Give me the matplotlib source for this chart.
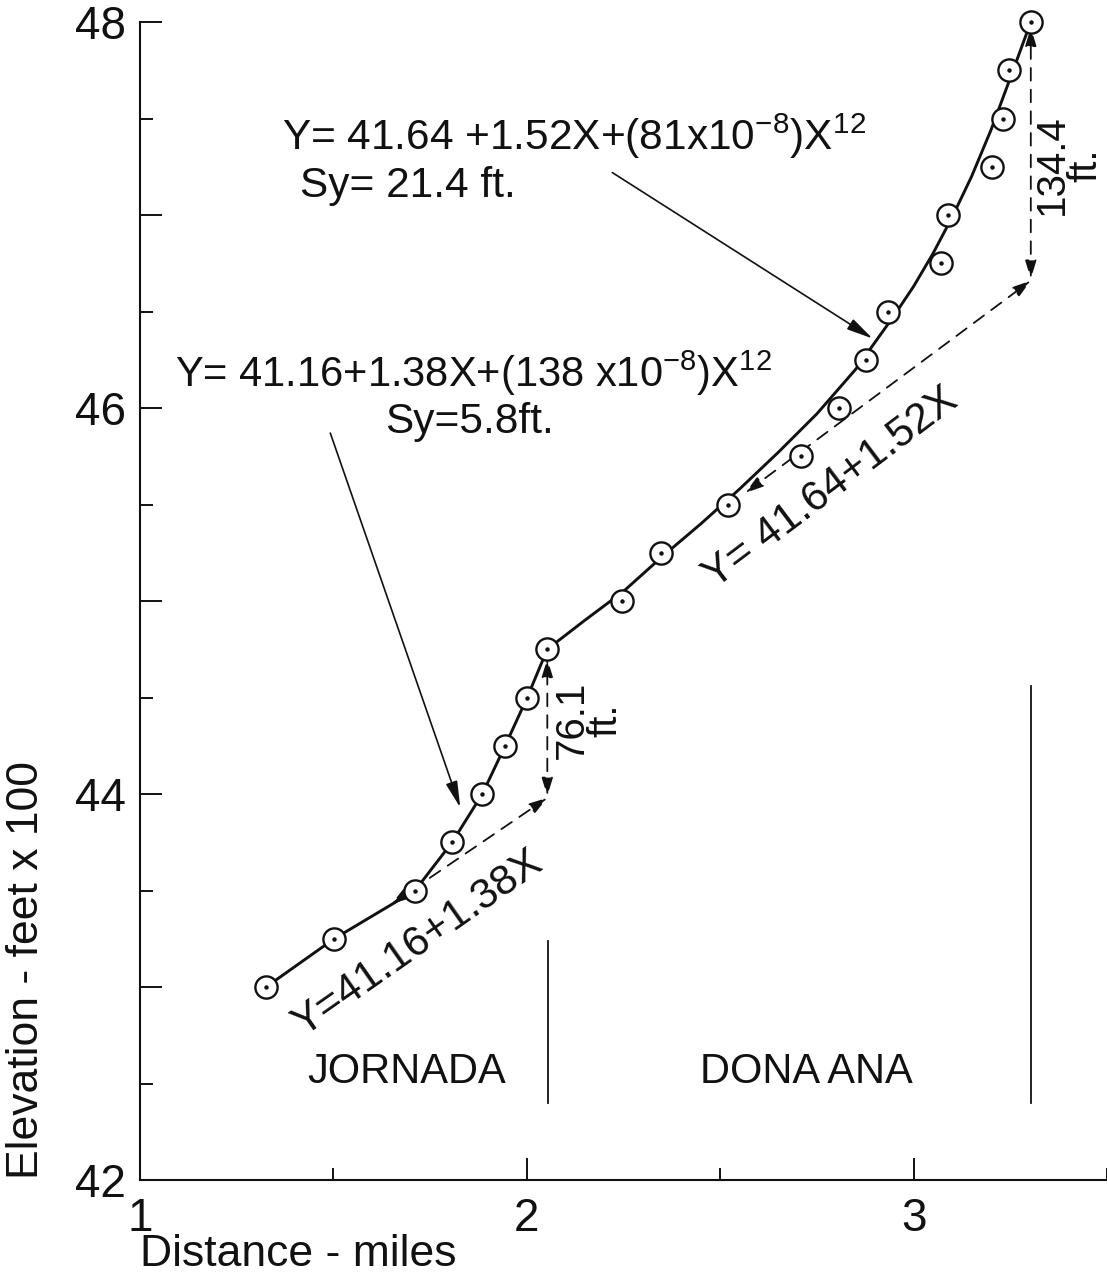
import matplotlib
matplotlib.use("Agg")
import matplotlib.pyplot as plt
from matplotlib.patches import FancyArrowPatch
from matplotlib.ticker import FixedLocator

# ---------------- data ----------------
distance_mi = [1.326, 1.502, 1.711, 1.807, 1.885, 1.944, 2.001, 2.053,
               2.245, 2.348, 2.519, 2.708, 2.806, 2.878, 2.935, 3.070,
               3.088, 3.202, 3.230, 3.246, 3.303]
elevation_100ft = [43.00, 43.25, 43.50, 43.75, 44.00, 44.25, 44.50, 44.75,
                   45.00, 45.25, 45.50, 45.75, 46.00, 46.25, 46.50, 46.75,
                   47.00, 47.25, 47.50, 47.75, 48.00]

# fitted curves as drawn
jornada_fit_x = [1.326, 1.502, 1.711, 1.807, 1.885, 1.944, 2.001, 2.053]
jornada_fit_y = [43.00, 43.25, 43.50, 43.75, 44.00, 44.25, 44.50, 44.75]
donaana_fit_x = [2.053, 2.15, 2.25, 2.35, 2.45, 2.55, 2.65, 2.75, 2.85,
                 2.95, 3.00, 3.05, 3.10, 3.15, 3.20, 3.25, 3.303]
donaana_fit_y = [44.75, 44.90, 45.05, 45.23, 45.40, 45.58, 45.77, 45.97,
                 46.20, 46.48, 46.63, 46.80, 46.99, 47.20, 47.44, 47.71, 48.00]

# linear parts (dashed) and departures
jornada_lin_x = [1.650, 2.053]
jornada_lin_y = [43.43, 43.98]
donaana_lin_x = [2.565, 3.303]
donaana_lin_y = [45.56, 46.66]
jornada_gap_y = [43.99, 44.70]
donaana_gap_y = [46.67, 47.97]

x_ticks = [1, 2, 3]
x_minor = [1.5, 2.5, 3.5]
y_ticks = [42, 43, 44, 45, 46, 47, 48]
y_ticklabels = ["42", "", "44", "", "46", "", "48"]
y_minor = [42.5, 43.5, 44.5, 45.5, 46.5, 47.5]

zone_names = ["JORNADA", "DONA ANA"]
zone_label_x = [1.690, 2.724]
zone_bounds_x = [2.054, 3.303]
zone_bounds_top = [43.24, 44.56]

# ---------------- style ----------------
plt.rcParams["font.family"] = ["Liberation Sans", "DejaVu Sans"]
plt.rcParams["mathtext.default"] = "regular"
ann_fs = 30.5
FS = 33
INK = "#111111"

fig = plt.figure(figsize=(11.07, 12.84), dpi=100)
fig.patch.set_facecolor("white")
ax = fig.add_axes([140 / 1107, 104 / 1284, 967 / 1107, 1158 / 1284])
ax.set_xlim(1, 3.5)
ax.set_ylim(42, 48)
for s in ("top", "right"):
    ax.spines[s].set_visible(False)
for s in ("left", "bottom"):
    ax.spines[s].set_linewidth(1.5)
    ax.spines[s].set_color(INK)

ax.xaxis.set_major_locator(FixedLocator(x_ticks))
ax.xaxis.set_minor_locator(FixedLocator(x_minor))
ax.set_xticklabels([str(v) for v in x_ticks])
ax.yaxis.set_major_locator(FixedLocator(y_ticks))
ax.yaxis.set_minor_locator(FixedLocator(y_minor))
ax.set_yticklabels(y_ticklabels)
ax.tick_params(which="major", direction="in", length=16, width=1.4,
               labelsize=FS, colors=INK)
ax.tick_params(axis="y", which="major", pad=10)
ax.tick_params(axis="x", which="major", pad=12)
ax.tick_params(which="minor", direction="in", length=9, width=1.4, colors=INK)

# curves
ax.plot(jornada_fit_x, jornada_fit_y, color=INK, lw=2.1, zorder=3,
        solid_joinstyle="round", clip_on=False)
ax.plot(donaana_fit_x, donaana_fit_y, color=INK, lw=2.1, zorder=3,
        solid_joinstyle="round", clip_on=False)
# data points: circle with centre dot
ax.plot(distance_mi, elevation_100ft, ls="none", marker="o", ms=16,
        mfc="white", mec=INK, mew=1.7, zorder=4, clip_on=False)
ax.plot(distance_mi, elevation_100ft, ls="none", marker="o", ms=2.2,
        mfc=INK, mec=INK, zorder=5, clip_on=False)

dash = (0, (7, 5))


def darrow(x0, y0, x1, y1):
    p = FancyArrowPatch((x0, y0), (x1, y1),
                        arrowstyle="<|-|>,head_length=0.55,head_width=0.17",
                        mutation_scale=20, lw=1.3, color=INK,
                        linestyle=dash, shrinkA=0, shrinkB=0, zorder=2,
                        clip_on=False)
    ax.add_patch(p)


darrow(jornada_lin_x[0], jornada_lin_y[0], jornada_lin_x[1], jornada_lin_y[1])
darrow(donaana_lin_x[0], donaana_lin_y[0], donaana_lin_x[1], donaana_lin_y[1])
darrow(jornada_lin_x[1], jornada_gap_y[0], jornada_lin_x[1], jornada_gap_y[1])
darrow(donaana_lin_x[1], donaana_gap_y[0], donaana_lin_x[1], donaana_gap_y[1])

# leader arrows
ax.annotate("", xy=(2.894, 46.36), xytext=(2.221, 47.22),
            arrowprops=dict(arrowstyle="-|>,head_length=0.8,head_width=0.18",
                            mutation_scale=20, lw=1.2, color=INK,
                            shrinkA=0, shrinkB=0))
ax.annotate("", xy=(1.828, 43.93), xytext=(1.492, 45.87),
            arrowprops=dict(arrowstyle="-|>,head_length=0.8,head_width=0.18",
                            mutation_scale=20, lw=1.2, color=INK,
                            shrinkA=0, shrinkB=0))

# equations
ax.text(1.367, 47.337, r"Y= 41.64 +1.52X+(81x10$^{-8}$)X$^{12}$",
        fontsize=ann_fs, color=INK, va="baseline", ha="left")
ax.text(1.414, 47.093, "Sy= 21.4 ft.", fontsize=ann_fs,
        color=INK, va="baseline", ha="left")
ax.text(1.090, 46.11, r"Y= 41.16+1.38X+(138 x10$^{-8}$)X$^{12}$",
        fontsize=ann_fs - 0.5, color=INK, va="baseline", ha="left")
ax.text(1.633, 45.87, "Sy=5.8ft.", fontsize=ann_fs,
        color=INK, va="baseline", ha="left")

ax.text(2.785, 45.585, "Y= 41.64+1.52X", fontsize=ann_fs,
        color=INK, rotation=37, rotation_mode="anchor", ha="center",
        va="center")
ax.text(1.717, 43.225, "Y=41.16+1.38X", fontsize=ann_fs,
        color=INK, rotation=35, rotation_mode="anchor", ha="center",
        va="center")

ax.text(2.159, 44.383, "76.1\nft.", fontsize=29,
        color=INK, rotation=90, ha="center", va="center",
        multialignment="center", linespacing=0.85)
ax.text(3.400, 47.26, "134.4\nft.", fontsize=29,
        color=INK, rotation=90, ha="center", va="center",
        multialignment="center", linespacing=0.85)

# zones
for xb, yt in zip(zone_bounds_x, zone_bounds_top):
    ax.plot([xb, xb], [42.40, yt], color=INK, lw=1.3)
for name, xl in zip(zone_names, zone_label_x):
    ax.text(xl, 42.56, name, fontsize=30, color=INK, ha="center", va="center")

# axis titles
fig.text(27 / 1107, 1 - 970 / 1284, "Elevation - feet x 100", rotation=90,
         fontsize=FS - 1, color=INK, ha="center", va="center")
fig.text(140 / 1107, 1 - 1255 / 1284, "Distance - miles", fontsize=FS - 1,
         color=INK, ha="left", va="center")

fig.savefig("out.png", dpi=100, facecolor="white")
